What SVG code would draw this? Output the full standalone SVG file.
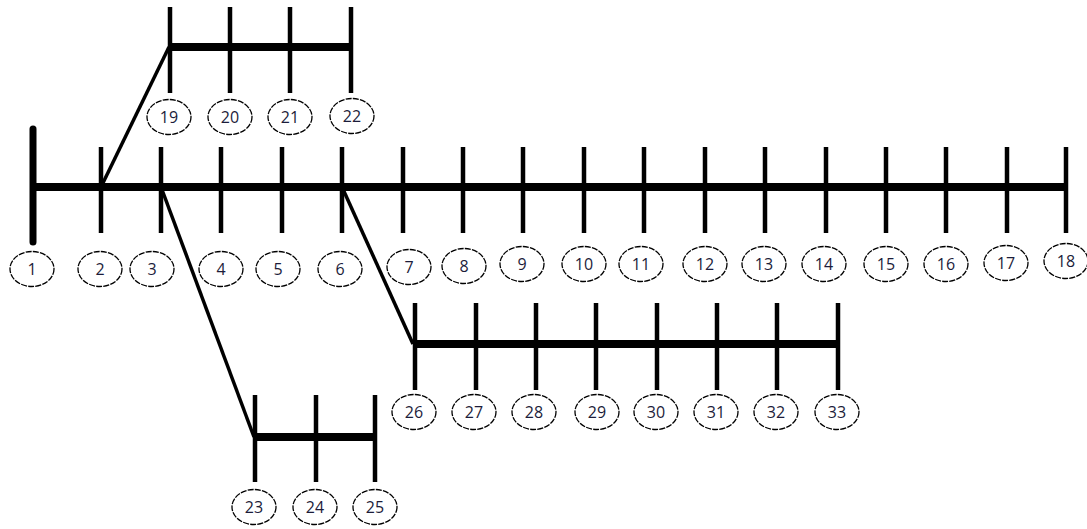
<svg xmlns="http://www.w3.org/2000/svg" width="1087" height="529" viewBox="0 0 1087 529">
<style>
.bus{stroke:#000;stroke-width:8;fill:none}
.tick{stroke:#000;stroke-width:4.5;fill:none}
.line{stroke:#000;stroke-width:3.5;fill:none}
.lbl ellipse{fill:#fff;stroke:#000;stroke-width:1.3;stroke-dasharray:6 1.2}
.lbl text{font-family:"Open Sans","Liberation Sans",Arial,sans-serif;font-size:16px;fill:#1c1c3a;text-anchor:middle;dominant-baseline:central}
</style>
<rect width="1087" height="529" fill="#fff"/>
<g id="connectors">
<line class="line" x1="101" y1="187" x2="169" y2="47"/>
<line class="line" x1="161" y1="187" x2="254" y2="437"/>
<line class="line" x1="342" y1="187" x2="413" y2="344"/>
</g>
<g id="bus-main">
<line class="bus" x1="33" y1="187" x2="1066" y2="187"/>
<line x1="33" y1="129" x2="33" y2="242" stroke="#000" stroke-width="7" stroke-linecap="round"/>
</g>
<g id="bus-top"><line class="bus" x1="169" y1="47" x2="350" y2="47"/></g>
<g id="bus-mid"><line class="bus" x1="413" y1="344" x2="838" y2="344"/></g>
<g id="bus-bottom"><line class="bus" x1="254" y1="437" x2="375" y2="437"/></g>
<g id="ticks">
<line class="tick" x1="101" y1="147" x2="101" y2="233"/>
<line class="tick" x1="161" y1="147" x2="161" y2="233"/>
<line class="tick" x1="221" y1="147" x2="221" y2="233"/>
<line class="tick" x1="282" y1="147" x2="282" y2="233"/>
<line class="tick" x1="342" y1="147" x2="342" y2="233"/>
<line class="tick" x1="403" y1="147" x2="403" y2="233"/>
<line class="tick" x1="463" y1="147" x2="463" y2="233"/>
<line class="tick" x1="523" y1="147" x2="523" y2="233"/>
<line class="tick" x1="584" y1="147" x2="584" y2="233"/>
<line class="tick" x1="644" y1="147" x2="644" y2="233"/>
<line class="tick" x1="705" y1="147" x2="705" y2="233"/>
<line class="tick" x1="765" y1="147" x2="765" y2="233"/>
<line class="tick" x1="826" y1="147" x2="826" y2="233"/>
<line class="tick" x1="886" y1="147" x2="886" y2="233"/>
<line class="tick" x1="946" y1="147" x2="946" y2="233"/>
<line class="tick" x1="1007" y1="147" x2="1007" y2="233"/>
<line class="tick" x1="1066" y1="147" x2="1066" y2="233"/>
<line class="tick" x1="170" y1="7" x2="170" y2="93"/>
<line class="tick" x1="230" y1="7" x2="230" y2="93"/>
<line class="tick" x1="290" y1="7" x2="290" y2="93"/>
<line class="tick" x1="351" y1="7" x2="351" y2="93"/>
<line class="tick" x1="415" y1="303" x2="415" y2="390"/>
<line class="tick" x1="476" y1="303" x2="476" y2="390"/>
<line class="tick" x1="536" y1="303" x2="536" y2="390"/>
<line class="tick" x1="596" y1="303" x2="596" y2="390"/>
<line class="tick" x1="657" y1="303" x2="657" y2="390"/>
<line class="tick" x1="717" y1="303" x2="717" y2="390"/>
<line class="tick" x1="777" y1="303" x2="777" y2="390"/>
<line class="tick" x1="838" y1="303" x2="838" y2="390"/>
<line class="tick" x1="255" y1="395" x2="255" y2="482"/>
<line class="tick" x1="316" y1="395" x2="316" y2="482"/>
<line class="tick" x1="375" y1="395" x2="375" y2="482"/>
</g>
<g id="n1" class="lbl"><ellipse cx="32" cy="269" rx="22" ry="17.5"/><text x="32" y="269">1</text></g>
<g id="n2" class="lbl"><ellipse cx="100" cy="269" rx="22" ry="17.5"/><text x="100" y="269">2</text></g>
<g id="n3" class="lbl"><ellipse cx="152" cy="269" rx="22" ry="17.5"/><text x="152" y="269">3</text></g>
<g id="n4" class="lbl"><ellipse cx="221" cy="269" rx="22" ry="17.5"/><text x="221" y="269">4</text></g>
<g id="n5" class="lbl"><ellipse cx="278" cy="269" rx="22" ry="17.5"/><text x="278" y="269">5</text></g>
<g id="n6" class="lbl"><ellipse cx="340" cy="269" rx="22" ry="17.5"/><text x="340" y="269">6</text></g>
<g id="n7" class="lbl"><ellipse cx="409" cy="267" rx="22" ry="17.5"/><text x="409" y="267">7</text></g>
<g id="n8" class="lbl"><ellipse cx="464" cy="266" rx="22" ry="17.5"/><text x="464" y="266">8</text></g>
<g id="n9" class="lbl"><ellipse cx="522" cy="264" rx="22" ry="17.5"/><text x="522" y="264">9</text></g>
<g id="n10" class="lbl"><ellipse cx="584" cy="264" rx="22" ry="17.5"/><text x="584" y="264">10</text></g>
<g id="n11" class="lbl"><ellipse cx="641" cy="264" rx="22" ry="17.5"/><text x="641" y="264">11</text></g>
<g id="n12" class="lbl"><ellipse cx="705" cy="264" rx="22" ry="17.5"/><text x="705" y="264">12</text></g>
<g id="n13" class="lbl"><ellipse cx="764" cy="264" rx="22" ry="17.5"/><text x="764" y="264">13</text></g>
<g id="n14" class="lbl"><ellipse cx="824" cy="264" rx="22" ry="17.5"/><text x="824" y="264">14</text></g>
<g id="n15" class="lbl"><ellipse cx="886" cy="264" rx="22" ry="17.5"/><text x="886" y="264">15</text></g>
<g id="n16" class="lbl"><ellipse cx="946" cy="264" rx="22" ry="17.5"/><text x="946" y="264">16</text></g>
<g id="n17" class="lbl"><ellipse cx="1006" cy="263" rx="22" ry="17.5"/><text x="1006" y="263">17</text></g>
<g id="n18" class="lbl"><ellipse cx="1066" cy="261" rx="22" ry="17.5"/><text x="1066" y="261">18</text></g>
<g id="n19" class="lbl"><ellipse cx="169" cy="117" rx="22" ry="17.5"/><text x="169" y="117">19</text></g>
<g id="n20" class="lbl"><ellipse cx="230" cy="117" rx="22" ry="17.5"/><text x="230" y="117">20</text></g>
<g id="n21" class="lbl"><ellipse cx="290" cy="117" rx="22" ry="17.5"/><text x="290" y="117">21</text></g>
<g id="n22" class="lbl"><ellipse cx="352" cy="116" rx="22" ry="17.5"/><text x="352" y="116">22</text></g>
<g id="n23" class="lbl"><ellipse cx="254" cy="507" rx="22" ry="17.5"/><text x="254" y="507">23</text></g>
<g id="n24" class="lbl"><ellipse cx="315" cy="507" rx="22" ry="17.5"/><text x="315" y="507">24</text></g>
<g id="n25" class="lbl"><ellipse cx="375" cy="507" rx="22" ry="17.5"/><text x="375" y="507">25</text></g>
<g id="n26" class="lbl"><ellipse cx="414" cy="412" rx="22" ry="17.5"/><text x="414" y="412">26</text></g>
<g id="n27" class="lbl"><ellipse cx="474" cy="412" rx="22" ry="17.5"/><text x="474" y="412">27</text></g>
<g id="n28" class="lbl"><ellipse cx="534" cy="412" rx="22" ry="17.5"/><text x="534" y="412">28</text></g>
<g id="n29" class="lbl"><ellipse cx="597" cy="412" rx="22" ry="17.5"/><text x="597" y="412">29</text></g>
<g id="n30" class="lbl"><ellipse cx="656" cy="412" rx="22" ry="17.5"/><text x="656" y="412">30</text></g>
<g id="n31" class="lbl"><ellipse cx="716" cy="412" rx="22" ry="17.5"/><text x="716" y="412">31</text></g>
<g id="n32" class="lbl"><ellipse cx="776" cy="412" rx="22" ry="17.5"/><text x="776" y="412">32</text></g>
<g id="n33" class="lbl"><ellipse cx="837" cy="412" rx="22" ry="17.5"/><text x="837" y="412">33</text></g>
</svg>
